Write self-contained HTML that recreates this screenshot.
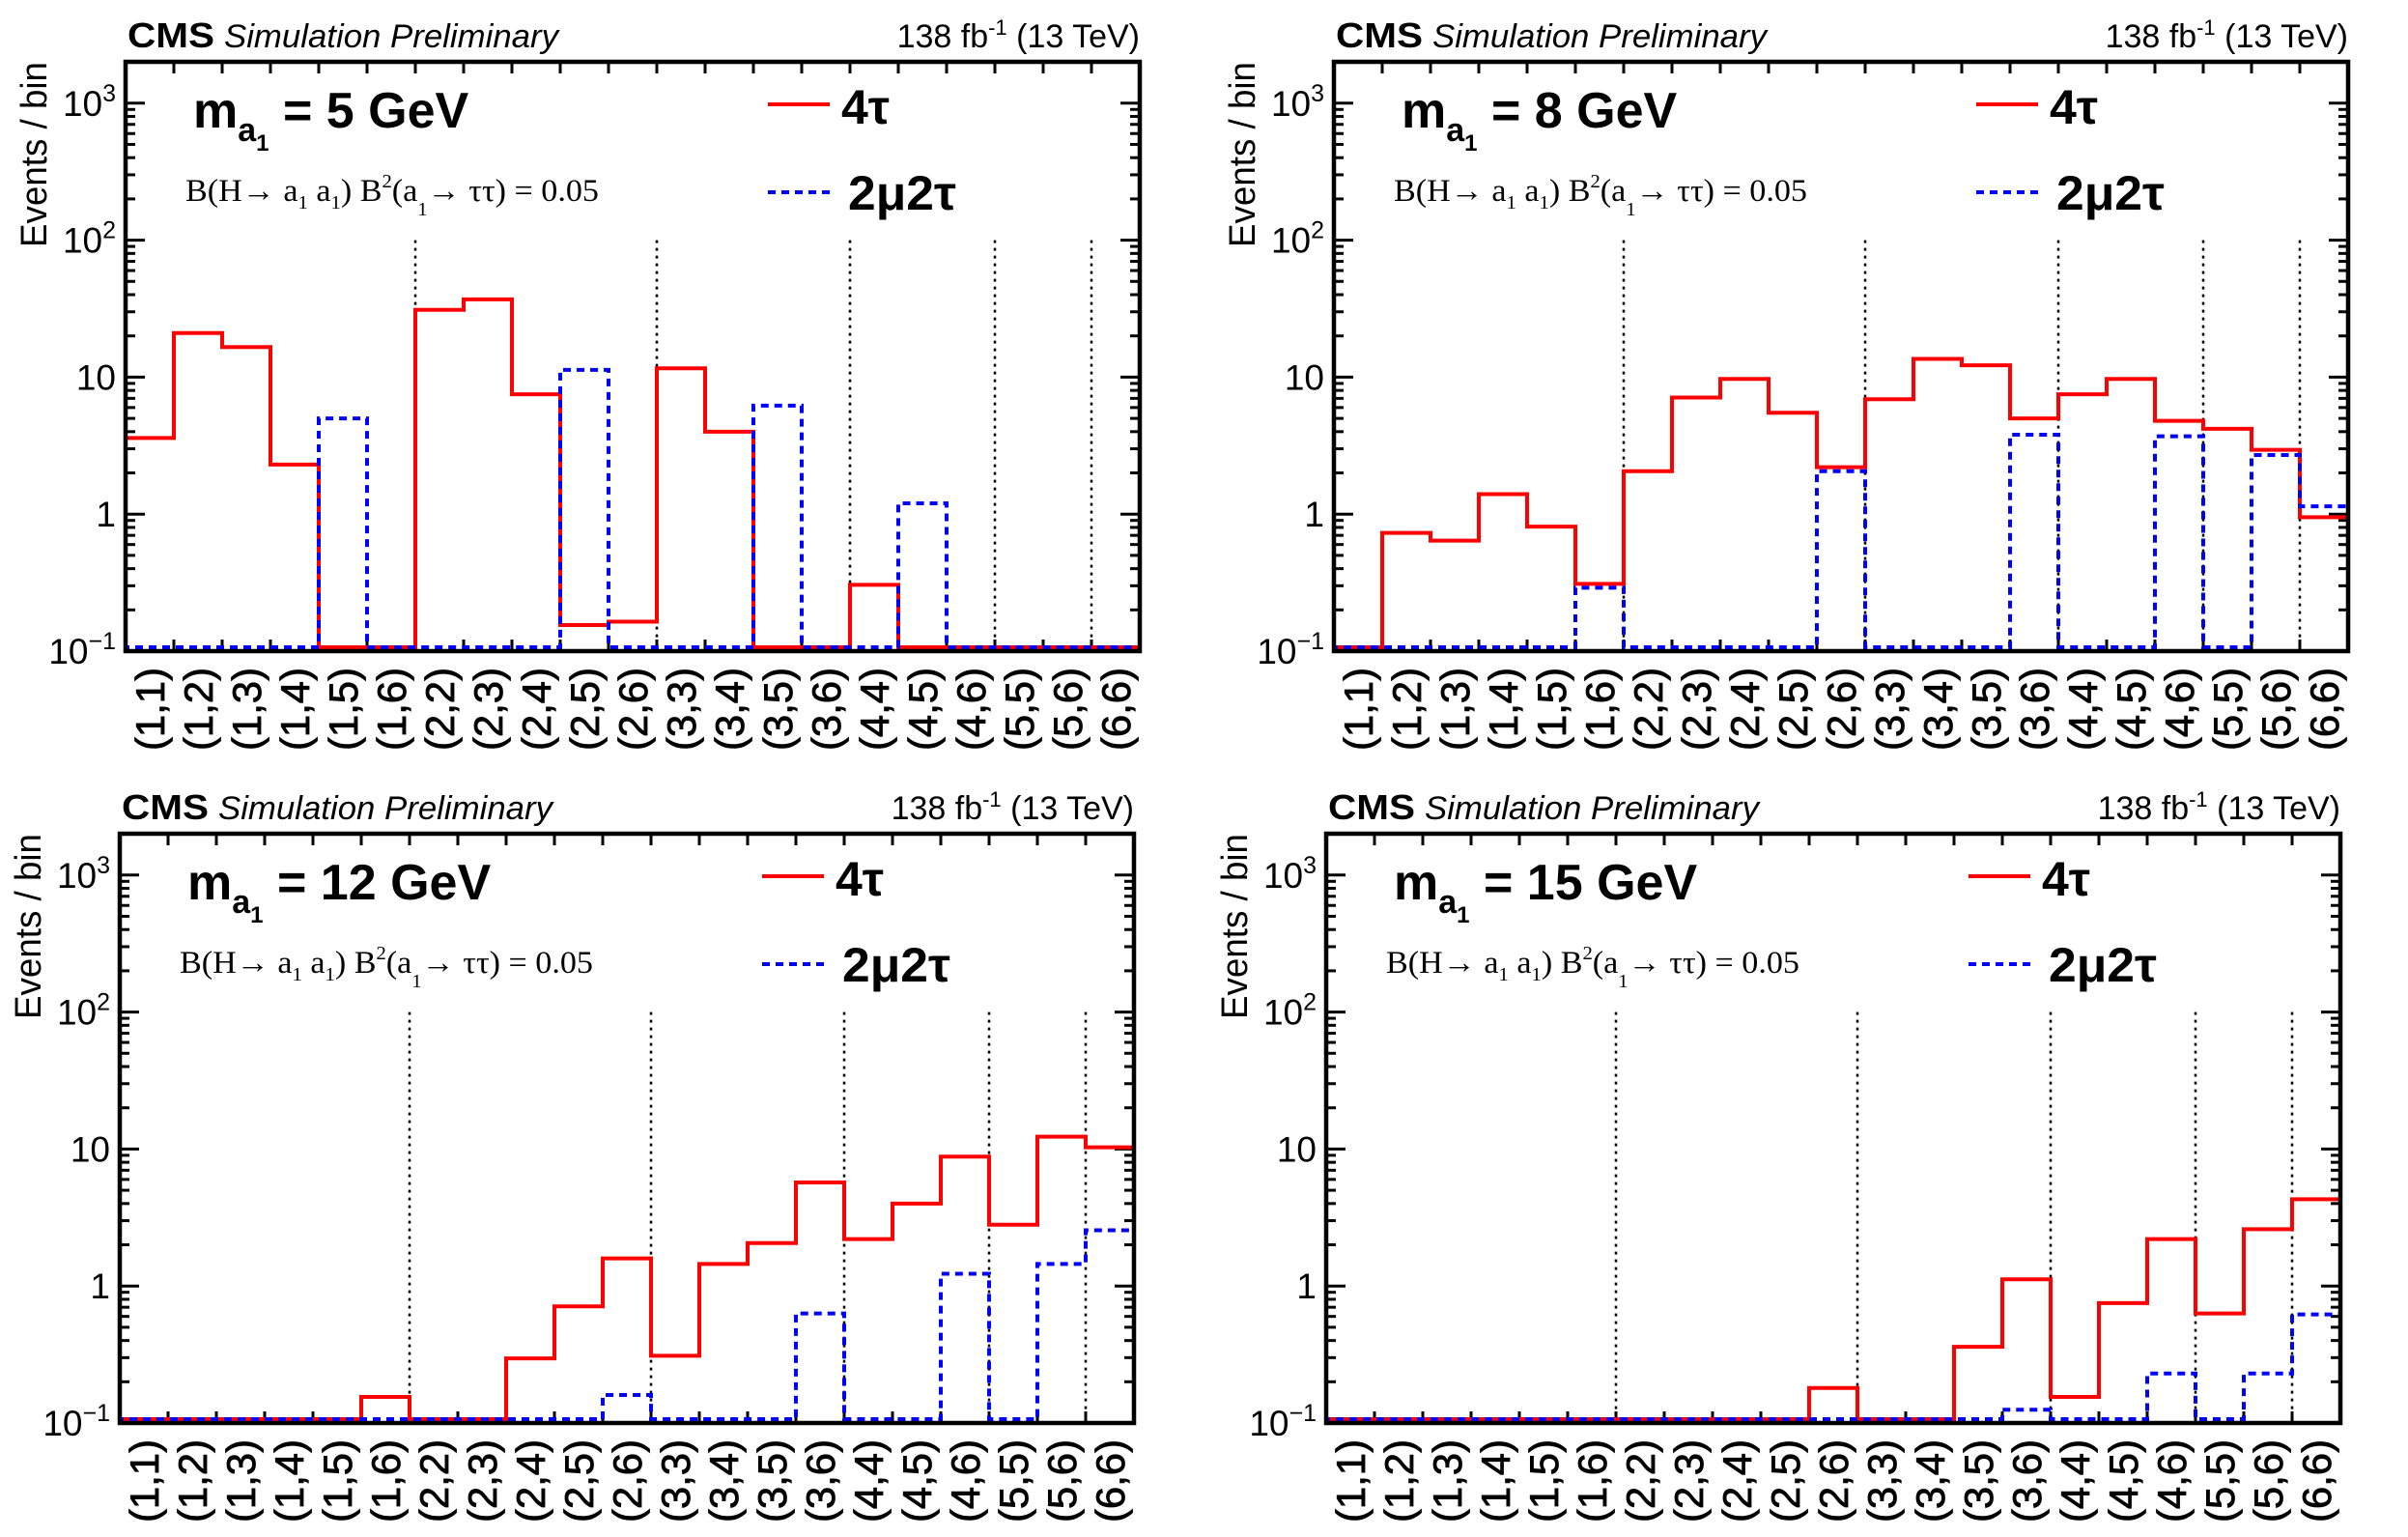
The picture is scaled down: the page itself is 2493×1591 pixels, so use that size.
<!DOCTYPE html>
<html><head><meta charset="utf-8"><style>
html,body{margin:0;padding:0;background:#fff;}
svg{display:block;}
</style></head><body>
<svg id="fig" xmlns="http://www.w3.org/2000/svg" width="2493" height="1591" viewBox="0 0 2493 1591"></svg>
<script>
const categories = ["(1,1)","(1,2)","(1,3)","(1,4)","(1,5)","(1,6)","(2,2)","(2,3)","(2,4)","(2,5)","(2,6)","(3,3)","(3,4)","(3,5)","(3,6)","(4,4)","(4,5)","(4,6)","(5,5)","(5,6)","(6,6)"];
const massLabels = ["5","8","12","15"];
const yTickValues = [0.1, 1, 10, 100, 1000];
const separatorBins = [6, 11, 15, 18, 20];
// 4tau series (0.1 = empty / floor)
const tl4tau = [3.6,21,16.6,2.3,0.1,0.1,31,37,7.5,0.155,0.164,11.6,4.0,0.1,0.1,0.305,0.1,0.1,0.1,0.1,0.1];
const tl2mu  = [0.1,0.1,0.1,0.1,5.0,0.1,0.1,0.1,0.1,11.3,0.1,0.1,0.1,6.2,0.1,0.1,1.2,0.1,0.1,0.1,0.1];
const tr4tau = [0.1,0.73,0.64,1.4,0.81,0.31,2.06,7.1,9.7,5.5,2.2,6.9,13.6,12.2,5.0,7.5,9.7,4.8,4.2,2.95,0.95];
const tr2mu  = [0.1,0.1,0.1,0.1,0.1,0.29,0.1,0.1,0.1,0.1,2.06,0.1,0.1,0.1,3.8,0.1,0.1,3.7,0.1,2.7,1.14];
const bl4tau = [0.1,0.1,0.1,0.1,0.1,0.155,0.1,0.1,0.296,0.71,1.59,0.31,1.45,2.06,5.7,2.2,4.0,8.8,2.8,12.3,10.3];
const bl2mu  = [0.1,0.1,0.1,0.1,0.1,0.1,0.1,0.1,0.1,0.1,0.16,0.1,0.1,0.1,0.63,0.1,0.1,1.23,0.1,1.45,2.55];
const br4tau = [0.1,0.1,0.1,0.1,0.1,0.1,0.1,0.1,0.1,0.1,0.18,0.1,0.1,0.36,1.12,0.155,0.75,2.2,0.63,2.6,4.3];
const br2mu  = [0.1,0.1,0.1,0.1,0.1,0.1,0.1,0.1,0.1,0.1,0.1,0.1,0.1,0.1,0.125,0.1,0.1,0.23,0.1,0.23,0.62];

const NS='http://www.w3.org/2000/svg';
const svg=document.getElementById('fig');
function el(tag,attrs,parent,text){const e=document.createElementNS(NS,tag);for(const k in attrs)e.setAttribute(k,attrs[k]);if(text!==undefined)e.textContent=text;(parent||svg).appendChild(e);return e;}

const panels=[
 {x0:130,y0:64,name:'panel-5gev',s4:tl4tau,s2:tl2mu,m:0},
 {x0:1381,y0:64,name:'panel-8gev',s4:tr4tau,s2:tr2mu,m:1},
 {x0:124,y0:863,name:'panel-12gev',s4:bl4tau,s2:bl2mu,m:2},
 {x0:1373,y0:863,name:'panel-15gev',s4:br4tau,s2:br2mu,m:3}
];
const W=1050,H=610,DEC=141.8;
const SANS='"Liberation Sans", "DejaVu Sans", sans-serif';
const SERIF='"Liberation Serif", serif';

panels.forEach(p=>{
 const g=el('g',{});
 
 
 const xs=i=>p.x0+i*W/categories.length;
 const yb=p.y0+H;
 const ys=v=>Math.min(p.y0+H-(Math.log10(Math.max(v,0.1))+1)*DEC, yb-4);
 const yt0=v=>p.y0+H-(Math.log10(v)+1)*DEC;
 // header
 const h1=el('text',{x:p.x0+2,y:p.y0-15,'font-family':SANS,'font-size':36,'font-weight':'bold',textLength:90,lengthAdjust:'spacingAndGlyphs'},g,'CMS');
 
 const h2=el('text',{x:p.x0+102,y:p.y0-15,'font-family':SANS,'font-size':34,'font-style':'italic',textLength:346,lengthAdjust:'spacingAndGlyphs'},g,'Simulation Preliminary');
 
 const h3=el('text',{x:p.x0+W,y:p.y0-15,'font-family':SANS,'font-size':34,'text-anchor':'end'},g);
 
 el('tspan',{},h3,'138 fb');el('tspan',{dy:-13,'font-size':22},h3,'-1');el('tspan',{dy:13},h3,' (13 TeV)');
 // y title
 const yt=el('text',{x:0,y:0,'font-family':SANS,'font-size':38,'text-anchor':'end',textLength:192,lengthAdjust:'spacingAndGlyphs',transform:`translate(${p.x0-82},${p.y0}) rotate(-90)`},g,'Events / bin');
 
 // y ticks
 for(let d=-1;d<=3;d++){
  for(let k=1;k<=9;k++){
   const v=k*Math.pow(10,d);const y=yt0(v);if(y<p.y0)continue;
   const L=k===1?20:10;
   el('line',{x1:p.x0,x2:p.x0+L,y1:y,y2:y,stroke:'#000','stroke-width':3},g);
   el('line',{x1:p.x0+W,x2:p.x0+W-L,y1:y,y2:y,stroke:'#000','stroke-width':3},g);
  }
 }
 yTickValues.forEach(v=>{
  const y=yt0(v)+13;const t=el('text',{x:p.x0-10,y:y,'font-family':SANS,'font-size':37,'text-anchor':'end'},g);
  
  const e=Math.round(Math.log10(v));
  if(e===0)t.textContent='1';else if(e===1)t.textContent='10';
  else{el('tspan',{},t,'10');el('tspan',{dy:-15,'font-size':25},t,e<0?'\u2212'+(-e):String(e));}
 });
 // x ticks & labels
 for(let i=1;i<categories.length;i++){
  el('line',{x1:xs(i),x2:xs(i),y1:yb,y2:yb-12,stroke:'#000','stroke-width':3},g);
  el('line',{x1:xs(i),x2:xs(i),y1:p.y0,y2:p.y0+12,stroke:'#000','stroke-width':3},g);
 }
 categories.forEach((c,i)=>{
  const cx=xs(i+0.5)+15;
  const t=el('text',{x:0,y:0,'font-family':SANS,'font-size':42,'text-anchor':'end',stroke:'#000','stroke-width':0.8,textLength:86,lengthAdjust:'spacingAndGlyphs',transform:`translate(${cx},${yb+17}) rotate(-90)`},g,c);
  
 });
 // separators
 separatorBins.forEach(b=>{
  const l=el('line',{x1:xs(b),x2:xs(b),y1:yt0(100),y2:yb,stroke:'#000','stroke-width':2.5,'stroke-dasharray':'3,5'},g);
  
 });
 // series
 function step(arr,color,dash,name){
  let d=`M${xs(0)},${yb}`;
  arr.forEach((v,i)=>{d+=` L${xs(i)},${ys(v)} L${xs(i+1)},${ys(v)}`;});
  d+=` L${xs(arr.length)},${yb}`;
  const a={d:d,fill:'none',stroke:color,'stroke-width':4};
  if(dash)a['stroke-dasharray']=dash;
  const path=el('path',a,g);
  
 }
 step(p.s4,'#ff0000',null,'series-4tau');
 step(p.s2,'#0000ff','8,6','series-2mu2tau');
 // frame
 const fr=el('rect',{x:p.x0,y:p.y0,width:W,height:H,fill:'none',stroke:'#000','stroke-width':4.5},g);
 
 // mass label
 const ml=el('text',{x:p.x0+70,y:p.y0+68,'font-family':SANS,'font-size':52,'font-weight':'bold'},g);
 
 el('tspan',{},ml,'m');el('tspan',{dy:14,'font-size':34},ml,'a');el('tspan',{dy:10,'font-size':24},ml,'1');
 el('tspan',{dy:-24},ml,' = '+massLabels[p.m]+' GeV');
 // BR text
 const bt=el('text',{x:p.x0+62,y:p.y0+144,'font-family':SERIF,'font-size':33,textLength:428,lengthAdjust:'spacingAndGlyphs'},g);
 
 el('tspan',{},bt,'B(H\u2192 a');el('tspan',{dy:8,'font-size':20},bt,'1');el('tspan',{dy:-8},bt,' a');
 el('tspan',{dy:8,'font-size':20},bt,'1');el('tspan',{dy:-8},bt,') B');el('tspan',{dy:-14,'font-size':20},bt,'2');
 el('tspan',{dy:14},bt,'(a');el('tspan',{dy:15,'font-size':20},bt,'1');el('tspan',{dy:-15},bt,'\u2192 \u03c4\u03c4) = 0.05');
 // legend
 const lg=el('g',{},g);
 
 const e1=el('g',{},lg);
 el('line',{x1:p.x0+665,x2:p.x0+729,y1:p.y0+44,y2:p.y0+44,stroke:'#ff0000','stroke-width':4},e1);
 el('text',{x:p.x0+741,y:p.y0+64,'font-family':SANS,'font-size':50,'font-weight':'bold'},e1,'4\u03c4');
 const e2=el('g',{},lg);
 el('line',{x1:p.x0+665,x2:p.x0+729,y1:p.y0+135,y2:p.y0+135,stroke:'#0000ff','stroke-width':4,'stroke-dasharray':'8,6'},e2);
 el('text',{x:p.x0+748,y:p.y0+153,'font-family':SANS,'font-size':50,'font-weight':'bold',textLength:112,lengthAdjust:'spacingAndGlyphs'},e2,'2\u03bc2\u03c4');
});
</script>
</body></html>
